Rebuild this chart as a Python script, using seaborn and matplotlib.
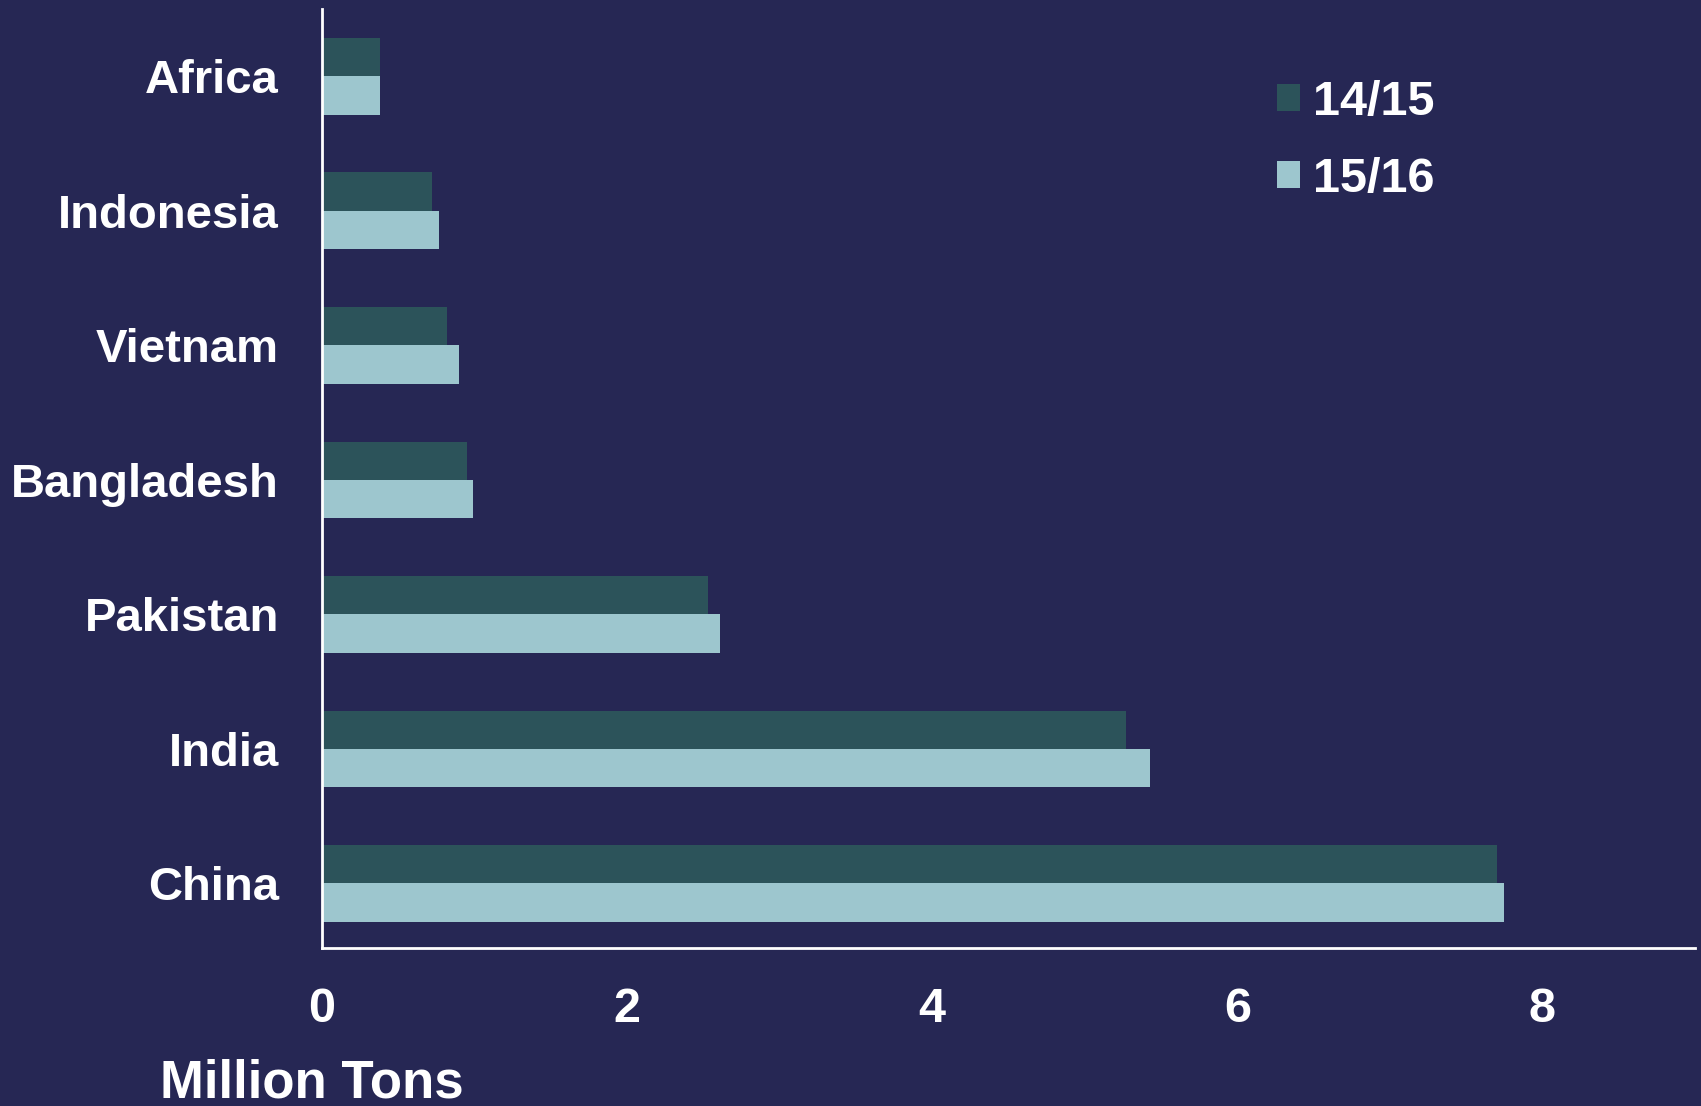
import matplotlib
matplotlib.use("Agg")
import matplotlib.pyplot as plt
import seaborn as sns
import pandas as pd

# --- data ---
regions = ["Africa", "Indonesia", "Vietnam", "Bangladesh", "Pakistan", "India", "China"]
seasons = ["14/15", "15/16"]
tons_1415 = [0.38, 0.72, 0.82, 0.95, 2.53, 5.27, 7.70]
tons_1516 = [0.38, 0.77, 0.90, 0.99, 2.61, 5.43, 7.75]

df = pd.DataFrame({
    "region": regions * 2,
    "season": [seasons[0]] * len(regions) + [seasons[1]] * len(regions),
    "tons": tons_1415 + tons_1516,
})

bg = "#262754"
dark = "#2C535A"
light = "#9DC6CE"

sns.set_theme(style="white")
plt.rcParams["font.family"] = ["Liberation Sans", "DejaVu Sans"]
plt.rcParams["font.weight"] = "bold"

fig = plt.figure(figsize=(17.01, 11.06), dpi=100, facecolor=bg)
ax = fig.add_axes([322 / 1701, 1 - 948 / 1106, (1695 - 322) / 1701, (948 - 9) / 1106])
ax.set_facecolor(bg)

sns.barplot(
    data=df, y="region", x="tons", hue="season",
    order=regions, hue_order=seasons,
    palette=[dark, light], saturation=1, orient="h",
    width=0.57, gap=0, linewidth=0, ax=ax,
)

ax.set_xlim(0, 9)
ax.set_ylim(6.48, -0.5)
ax.set_xticks([0, 2, 4, 6, 8])
ax.set_xlabel("")
ax.set_ylabel("")

for side in ["top", "right"]:
    ax.spines[side].set_visible(False)
for side in ["left", "bottom"]:
    ax.spines[side].set_color("white")
    ax.spines[side].set_linewidth(2)

ax.tick_params(axis="x", colors="white", length=10, width=2, pad=18, labelsize=35, direction="out")
ax.tick_params(axis="y", colors="white", length=0, pad=31, labelsize=34)
for lbl in ax.get_xticklabels() + ax.get_yticklabels():
    lbl.set_fontweight("bold")

leg = ax.legend(
    loc="upper left", bbox_to_anchor=(1277 / 1701, 1 - 80 / 1106),
    bbox_transform=fig.transFigure, frameon=False,
    fontsize=35, handlelength=0.47, handleheight=0.47,
    handletextpad=0.27, labelspacing=0.65, borderaxespad=0, borderpad=0,
)
for t in leg.get_texts():
    t.set_color("white")
    t.set_fontweight("bold")

fig.text(312 / 1701, 8 / 1106, "Million Tons", color="white", fontsize=38,
         fontweight="bold", ha="center", va="baseline")

fig.savefig("out.png", dpi=100, facecolor=bg)
